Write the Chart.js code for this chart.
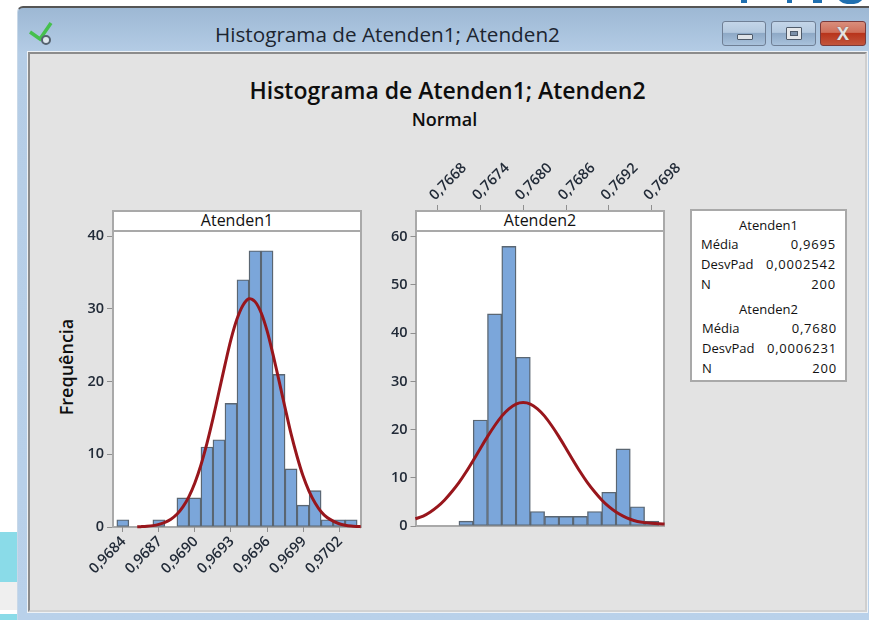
<!DOCTYPE html>
<html lang="pt">
<head>
<meta charset="utf-8">
<title>Histograma de Atenden1; Atenden2</title>
<script src="https://cdn.jsdelivr.net/npm/chart.js@4"></script>
<style>
html,body{margin:0;padding:0;background:#fff;overflow:hidden}
#stage{position:relative;width:869px;height:620px;overflow:hidden;background:#fff;font-family:"Open Sans",sans-serif;color:#111}
#stage div{position:absolute;box-sizing:border-box}
.tx{white-space:nowrap}
canvas{position:absolute}
#win{left:17px;top:6px;width:852px;height:614px;background:linear-gradient(#9db8d4 0,#b5cde6 46px,#b9d1ea 100%);border-top:2px solid #555;border-left:1px solid #c8d8e8;border-top-left-radius:6px}
#inner{left:28px;top:52px;width:839px;height:560px;background:#e3e3e3;border:2px solid #a8a8a8;border-top-color:#8c8c8c;border-left-color:#8c8c8c;border-right-color:#cfcfcf;border-bottom-color:#d2d2d2;outline:1px solid #eef2f6}
.btn{top:21px;height:25px;border:1px solid #6f7f95;border-radius:3px;background:linear-gradient(#c3d5e8 0,#b4c9df 45%,#8ea9c6 50%,#a9c2dc 100%)}
.panel{background:#fff;border:2px solid #a9a9a9}
.strip{left:0;top:0;right:0;height:20px;border-bottom:2px solid #a9a9a9;text-align:center;font-size:16px;font-weight:500;line-height:17px}
#stats{left:690px;top:209px;width:157px;height:173px;background:#fff;border:2px solid #a9a9a9;font-size:13px;font-weight:500}
</style>
</head>
<body>
<div id="stage">
  <div style="left:0;top:532px;width:17px;height:50px;background:#8adbe8"></div>
  <div style="left:0;top:582px;width:17px;height:28px;background:#efefef"></div>
  <div style="left:0;top:614px;width:17px;height:6px;background:#8adbe8"></div>
  <div style="left:837px;top:-6px;width:27px;height:10px;background:#1f6fb0;border-radius:0 0 13px 13px"></div>
  <div style="left:741px;top:0;width:6px;height:3px;background:#1f6fb0"></div>
  <div style="left:787px;top:0;width:5px;height:3px;background:#1f6fb0"></div>
  <div style="left:813px;top:0;width:9px;height:3px;background:#1f6fb0"></div>
  <div id="win"></div>
  <svg style="position:absolute;left:29px;top:20px" width="26" height="26" viewBox="0 0 26 26"><path d="M1 12l10 7L22 3" fill="none" stroke="#46c04e" stroke-width="3.5"/><circle cx="17" cy="20" r="4" fill="#dfe7ee" stroke="#55626f" stroke-width="2"/></svg>
  <div class="tx" id="wt" style="left:215px;top:20px;font-size:20.7px;line-height:28px;color:#1c2530">Histograma de Atenden1; Atenden2</div>
  <div class="btn" style="left:722px;width:44px"><div style="left:14px;top:12px;width:16px;height:6px;background:#dfe3e8;border:1px solid #4f5b6a;border-radius:1px"></div></div>
  <div class="btn" style="left:771px;width:45px"><div style="left:14px;top:5px;width:16px;height:13px;background:#e4e7ea;border:1px solid #4f5b6a;border-radius:1px"><div style="left:3px;top:3px;width:8px;height:5px;background:#7c90a8;border:1px solid #4f5b6a"></div></div></div>
  <div class="btn tx" style="left:820px;width:46px;background:linear-gradient(#d98e7c 0,#cf6f5a 45%,#b8341c 50%,#c2553c 100%);border-color:#7a3a3a;color:#e6e2e0;font:bold 18px/22px 'Open Sans',sans-serif;text-align:center;text-shadow:0 0 1px #444">X</div>
  <div id="inner"></div>
  <div class="tx" id="t1" style="left:0;width:895px;top:75px;text-align:center;font-weight:600;font-size:23px;line-height:30px;color:#0e0e0e">Histograma de Atenden1; Atenden2</div>
  <div class="tx" id="t2" style="left:0;width:889px;top:107px;text-align:center;font-weight:600;font-size:18px;line-height:24px;color:#0e0e0e">Normal</div>
  <div class="tx" style="left:54px;top:355px;width:24px;height:24px;transform:rotate(-90deg);transform-origin:center;font-weight:600;font-size:18px;line-height:24px;text-align:center;display:flex;justify-content:center;color:#0e0e0e">Frequência</div>

  <div class="panel" style="left:112px;top:210px;width:250px;height:318px"><div class="strip">Atenden1</div></div>
  <div class="panel" style="left:415px;top:210px;width:250px;height:317px"><div class="strip">Atenden2</div></div>
  <canvas id="c1" style="left:50px;top:190px" width="330" height="420"></canvas>
  <canvas id="c2" style="left:370px;top:150px" width="310" height="400"></canvas>

  <div id="stats"></div>
</div>
<script>
// ---------- histogram 1: Atenden1 ----------
const binCentres1 = [0.9684,0.9685,0.9686,0.9687,0.9688,0.9689,0.9690,0.9691,0.9692,0.9693,0.9694,0.9695,0.9696,0.9697,0.9698,0.9699,0.9700,0.9701,0.9702,0.9703];
const counts1     = [1,0,0,1,0,4,4,11,12,17,34,38,38,21,8,3,5,1,1,1];
const curveX1 = [0.96852,0.96855,0.96860,0.96865,0.96870,0.96875,0.96880,0.96885,0.96890,0.96895,0.96900,0.96905,0.96910,0.96915,0.96920,0.96925,0.96930,0.96935,0.96940,0.96945,0.96950,0.96955,0.96960,0.96965,0.96970,0.96975,0.96980,0.96985,0.96990,0.96995,0.97000,0.97005,0.97010,0.97015,0.97020,0.97025,0.97030,0.97035,0.97038];
const curveY1 = [0.03,0.05,0.10,0.19,0.36,0.63,1.07,1.75,2.76,4.18,6.09,8.53,11.5,14.9,18.6,22.3,25.8,28.6,30.5,31.4,31.0,29.5,27.0,23.7,20.1,16.4,12.8,9.7,7.0,4.9,3.3,2.1,1.3,0.8,0.45,0.25,0.13,0.07,0.05];
const xTicks1 = [0.9684,0.9687,0.9690,0.9693,0.9696,0.9699,0.9702];
const yTicks1 = [0,10,20,30,40];

// ---------- histogram 2: Atenden2 ----------
const binCentres2 = [0.7672,0.7674,0.7676,0.7678,0.7680,0.7682,0.7684,0.7686,0.7688,0.7690,0.7692,0.7694,0.7696,0.7698];
const counts2     = [1,22,44,58,35,3,2,2,2,3,7,16,4,1];
const curveX2 = [0.76649,0.7666,0.7667,0.7668,0.7669,0.7670,0.7671,0.7672,0.7673,0.7674,0.7675,0.7676,0.7677,0.7678,0.7679,0.7680,0.7681,0.7682,0.7683,0.7684,0.7685,0.7686,0.7687,0.7688,0.7689,0.7690,0.7691,0.7692,0.7693,0.7694,0.7695,0.7696,0.7697,0.7698,0.7699,0.76998];
const curveY2 = [1.5,2.05,2.9,4.0,5.4,7.1,9.0,11.2,13.6,16.1,18.55,20.8,22.8,24.3,25.3,25.6,25.3,24.3,22.8,20.8,18.55,16.1,13.6,11.2,9.0,7.1,5.4,4.0,2.9,2.05,1.4,0.95,0.7,0.55,0.45,0.4];
const xTicks2 = [0.7668,0.7674,0.7680,0.7686,0.7692,0.7698];
const yTicks2 = [0,10,20,30,40,50,60];

// ---------- summary box ----------
const statTitles = ["Atenden1","Atenden2"];
const statMeans  = ["0,9695","0,7680"];
const statSDs    = ["0,0002542","0,0006231"];
const statNs     = ["200","200"];

const tickFont = {family:"'Open Sans',sans-serif",size:14.5,weight:'600'};
const fmt = v => v.toFixed(4).replace('.',',');
const AXIS = '#8f8f8f';
const noOverhang = s => { s.paddingLeft=0; s.paddingRight=0; s.paddingTop=0; s.paddingBottom=0; };

function hist(id, o){
  return new Chart(document.getElementById(id),{
    type:'bar',
    data:{datasets:[
      {type:'line',data:o.cx.map((x,i)=>({x,y:o.cy[i]})),borderColor:'#98161c',borderWidth:3,pointRadius:0,tension:0.3,fill:false,order:0,clip:false},
      {type:'bar',data:o.bx.map((x,i)=>({x,y:o.by[i]||null})),backgroundColor:'#7ba6da',borderColor:'#5a6672',borderWidth:1.4,barPercentage:1,categoryPercentage:1,order:1,borderSkipped:false}
    ]},
    options:{
      responsive:false,animation:false,
      layout:{padding:o.pad,autoPadding:false},
      plugins:{legend:{display:false},tooltip:{enabled:false},title:{display:false}},
      scales:{
        x:{type:'linear',position:o.xPos,min:o.xMin,max:o.xMax,offset:false,
          afterFit:s=>{s.height=o.xH;noOverhang(s)},
          afterBuildTicks:s=>{s.ticks=o.xt.map(value=>({value}))},
          grid:{offset:false,drawOnChartArea:false,drawTicks:true,tickLength:5,color:AXIS,lineWidth:1},
          border:{display:false},
          ticks:{autoSkip:false,minRotation:45,maxRotation:45,padding:1,labelOffset:o.lo,color:'#222b38',font:tickFont,callback:fmt}},
        y:{type:'linear',min:0,max:o.yMax,
          afterFit:s=>{s.width=o.yW;noOverhang(s)},
          afterBuildTicks:s=>{s.ticks=o.yt.map(value=>({value}))},
          grid:{drawOnChartArea:false,drawTicks:true,tickLength:5,color:AXIS,lineWidth:1},
          border:{display:false},
          ticks:{autoSkip:false,padding:3,color:'#222b38',font:tickFont}}
      }
    }
  });
}

hist('c1',{bx:binCentres1,by:counts1,cx:curveX1,cy:curveY1,xt:xTicks1,yt:yTicks1,lo:1,
  xMin:0.96831,xMax:0.970386,yMax:40.85,xPos:'bottom',xH:83,yW:62,
  pad:{top:40,right:18.5,left:0,bottom:0}});
hist('c2',{bx:binCentres2,by:counts2,cx:curveX2,cy:curveY2,xt:xTicks2,yt:yTicks2,lo:7,
  xMin:0.766492,xMax:0.769986,yMax:65.56,xPos:'top',xH:60,yW:45.5,
  pad:{top:0,right:15,left:0,bottom:24}});

const stats = document.getElementById('stats');
statTitles.forEach((t,i)=>{
  const top = i===0 ? 5 : 89;
  const lx = i===0 ? 9 : 10, rx = i===0 ? 9 : 8;
  const add=(txt,y,css)=>{const d=document.createElement('div');d.className='tx';d.textContent=txt;d.style.cssText='top:'+y+'px;line-height:18px;'+css;stats.appendChild(d);};
  add(t,top,'left:0;right:0;text-align:center');
  [["Média",statMeans[i]],["DesvPad",statSDs[i]],["N",statNs[i]]].forEach((r,k)=>{
    const y = top+19+k*20;
    add(r[0],y,'left:'+lx+'px');
    add(r[1],y,'right:'+rx+'px;letter-spacing:.8px');
  });
});
</script>
</body>
</html>
